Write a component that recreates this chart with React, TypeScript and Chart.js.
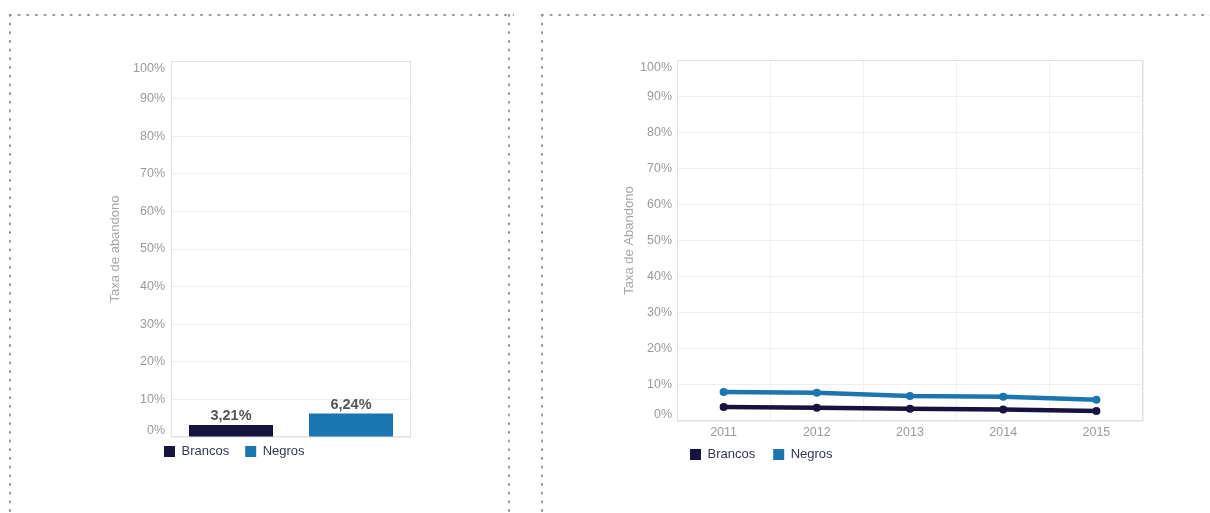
import React, { useEffect, useRef } from 'react';
import { Chart, registerables } from 'chart.js';

Chart.register(...registerables);

const FONT = '"Liberation Sans", Arial, Helvetica, sans-serif';

// ---- data ----
const barCategories = ['Brancos', 'Negros'];
const barBrancos = [3.21, null];
const barNegros = [null, 6.24];

const years = ['2011', '2012', '2013', '2014', '2015'];
const lineBrancos = [3.9, 3.7, 3.4, 3.2, 2.8];
const lineNegros = [8.0, 7.8, 6.9, 6.7, 5.9];

const yMin = 0;
const yMax = 100;
const yStep = 10;

const leftTitle = 'Taxa de abandono';
const rightTitle = 'Taxa de Abandono';

const COLOR_BRANCOS = '#16143f';
const COLOR_NEGROS = '#1b75b0';

// ---- helpers ----
const pct = (v: number) => v.toFixed(2).replace('.', ',') + '%';

const plotFrame = {
  id: 'plotFrame',
  beforeDatasetsDraw(chart: any) {
    const { ctx, chartArea: a } = chart;
    ctx.save();
    ctx.strokeStyle = '#e1e1e1';
    ctx.lineWidth = 1;
    const l = Math.round(a.left) + 0.5;
    const t = Math.round(a.top) + 0.5;
    const r = Math.round(a.right) - 0.5;
    const b = Math.round(a.bottom) - 0.5;
    ctx.strokeRect(l, t, r - l, b - t);
    ctx.restore();
  },
};

const legendPlacer = (left: number, top: number) => ({
  id: 'legendPlacer',
  afterLayout(chart: any) {
    const lg = chart.legend;
    if (!lg) return;
    const w = lg.width;
    const h = lg.height;
    lg.left = left;
    lg.right = left + w;
    lg.top = top;
    lg.bottom = top + h;
  },
});

const barValueLabels = {
  id: 'barValueLabels',
  afterDatasetsDraw(chart: any) {
    const { ctx } = chart;
    ctx.save();
    ctx.font = `bold 14.5px ${FONT}`;
    ctx.fillStyle = '#555555';
    ctx.textAlign = 'center';
    ctx.textBaseline = 'alphabetic';
    chart.data.datasets.forEach((ds: any, di: number) => {
      const meta = chart.getDatasetMeta(di);
      meta.data.forEach((el: any, i: number) => {
        const v = ds.data[i];
        if (v == null) return;
        ctx.fillText(pct(v), el.x, el.y - 5);
      });
    });
    ctx.restore();
  },
};

const legendLabels = (padding: number) => ({
  boxWidth: 11,
  boxHeight: 11,
  padding,
  color: '#333852',
  font: { family: FONT, size: 13 },
  generateLabels: (chart: any) =>
    (Chart.defaults.plugins.legend.labels as any)
      .generateLabels(chart)
      .map((it: any) => ({ ...it, lineWidth: 0, strokeStyle: 'rgba(0,0,0,0)' })),
});

const yScale = (title: string, width: number, pad: number) => ({
  min: yMin,
  max: yMax,
  ticks: {
    stepSize: yStep,
    padding: pad,
    color: '#9a9a9a',
    font: (c: any) => {
      const v = c.tick ? c.tick.value : null;
      const lh = v === yMax ? 15 / 12.5 : v === yMin ? 12 / 12.5 : 1.2;
      return { family: FONT, size: 12.5, lineHeight: lh };
    },
    callback: (v: any) =>
      v === yMax ? ['', v + '%'] : v === yMin ? [v + '%', ''] : v + '%',
  },
  grid: { color: '#efefef', drawTicks: false },
  border: { display: false },
  title: {
    display: true,
    text: title,
    color: '#a8a8a8',
    font: { family: FONT, size: 13 },
    padding: 0,
  },
  afterFit: (s: any) => {
    s.width = width;
  },
});

function BarChart() {
  const ref = useRef<HTMLCanvasElement>(null);
  useEffect(() => {
    if (!ref.current) return;
    const chart = new Chart(ref.current, {
      type: 'bar',
      data: {
        labels: barCategories,
        datasets: [
          { label: 'Brancos', data: barBrancos as any, backgroundColor: COLOR_BRANCOS },
          { label: 'Negros', data: barNegros as any, backgroundColor: COLOR_NEGROS },
        ],
      },
      options: {
        animation: false,
        responsive: true,
        maintainAspectRatio: false,
        layout: { padding: { top: 20, right: 17, bottom: 4, left: 0 } },
        datasets: {
          bar: { grouped: false, skipNull: true, categoryPercentage: 1, barPercentage: 0.7 },
        } as any,
        scales: {
          x: { display: false, offset: true },
          y: yScale(leftTitle, 63, 6) as any,
        },
        plugins: {
          legend: { position: 'bottom', align: 'start', labels: legendLabels(16) as any },
          tooltip: { enabled: false },
        },
      },
      plugins: [plotFrame, barValueLabels, legendPlacer(40, 389)],
    });
    return () => chart.destroy();
  }, []);
  return (
    <div style={{ position: 'absolute', left: 108, top: 40, width: 320, height: 440 }}>
      <canvas ref={ref} />
    </div>
  );
}

function LineChart() {
  const ref = useRef<HTMLCanvasElement>(null);
  useEffect(() => {
    if (!ref.current) return;
    const common = {
      borderWidth: 4.5,
      pointRadius: 4,
      pointBorderWidth: 0,
      tension: 0,
    };
    const chart = new Chart(ref.current, {
      type: 'line',
      data: {
        labels: years,
        datasets: [
          {
            label: 'Brancos',
            data: lineBrancos,
            borderColor: COLOR_BRANCOS,
            backgroundColor: COLOR_BRANCOS,
            pointBackgroundColor: COLOR_BRANCOS,
            ...common,
          },
          {
            label: 'Negros',
            data: lineNegros,
            borderColor: COLOR_NEGROS,
            backgroundColor: COLOR_NEGROS,
            pointBackgroundColor: COLOR_NEGROS,
            ...common,
          },
        ],
      },
      options: {
        animation: false,
        responsive: true,
        maintainAspectRatio: false,
        layout: { padding: { top: 20, right: 17, bottom: 3, left: 0 } },
        scales: {
          x: {
            offset: true,
            grid: { color: '#efefef', drawTicks: false, offset: true },
            border: { display: false },
            ticks: { color: '#9a9a9a', font: { family: FONT, size: 12.5 }, padding: 4 },
            afterFit: (s: any) => {
              s.height = 20;
            },
          } as any,
          y: yScale(rightTitle, 55, 5) as any,
        },
        plugins: {
          legend: { position: 'bottom', align: 'start', labels: legendLabels(18) as any },
          tooltip: { enabled: false },
        },
      },
      plugins: [plotFrame, legendPlacer(50, 390)],
    });
    return () => chart.destroy();
  }, []);
  return (
    <div style={{ position: 'absolute', left: 622, top: 40, width: 538, height: 445 }}>
      <canvas ref={ref} />
    </div>
  );
}

const dotBg = 'radial-gradient(circle, #8c8c8c 0.9px, rgba(140,140,140,0) 1.5px)';

function HDots({ left, top, width }: { left: number; top: number; width: number }) {
  return (
    <div
      style={{
        position: 'absolute',
        left,
        top: top - 2,
        width,
        height: 4,
        backgroundImage: dotBg,
        backgroundSize: '8.7px 4px',
        backgroundRepeat: 'repeat-x',
      }}
    />
  );
}

function VDots({ left, top, height }: { left: number; top: number; height: number }) {
  return (
    <div
      style={{
        position: 'absolute',
        left: left - 2,
        top,
        width: 4,
        height,
        backgroundImage: dotBg,
        backgroundSize: '4px 8.7px',
        backgroundRepeat: 'repeat-y',
      }}
    />
  );
}

export default function App() {
  return (
    <div
      style={{
        position: 'absolute',
        left: 0,
        top: 0,
        width: 1210,
        height: 513,
        overflow: 'hidden',
        background: '#fff',
      }}
    >
      <HDots left={5.65} top={15} width={508} />
      <VDots left={10} top={10.65} height={502} />
      <VDots left={509} top={10.65} height={502} />
      <HDots left={537.65} top={15} width={672} />
      <VDots left={542} top={10.65} height={502} />
      <BarChart />
      <LineChart />
    </div>
  );
}
